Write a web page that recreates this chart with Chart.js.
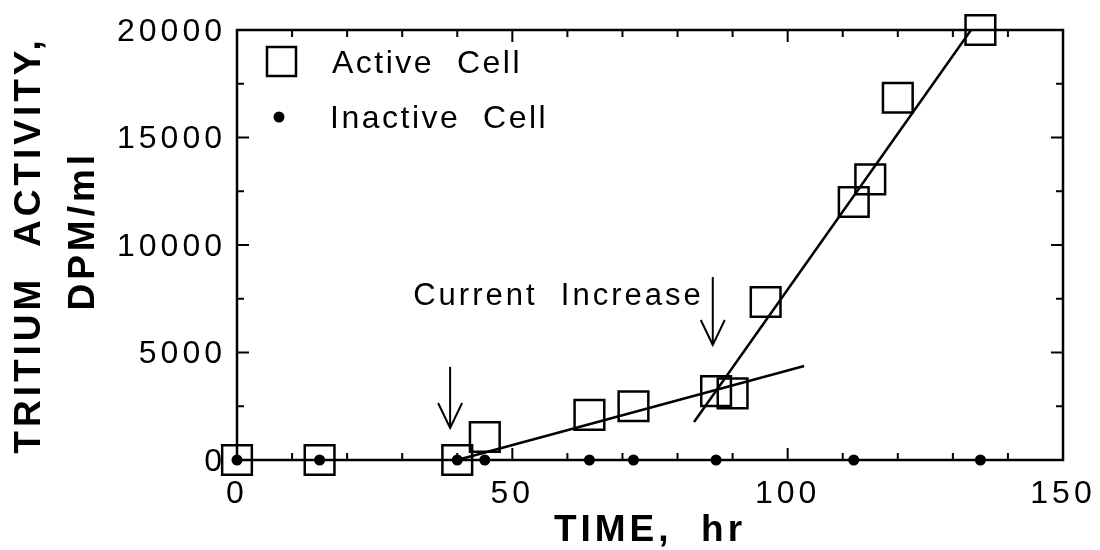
<!DOCTYPE html>
<html lang="en">
<head>
<meta charset="UTF-8">
<title>Tritium activity vs time</title>
<script src="https://cdn.jsdelivr.net/npm/chart.js"></script>
<style>
  html, body { margin: 0; padding: 0; background: #fff; }
  #wrap { width: 1100px; height: 550px; }
</style>
</head>
<body>
<div id="wrap"><canvas id="chart" width="1100" height="550"></canvas></div>
<script>
  // Active cell (open squares)
  const activeTime = [0, 15, 40, 45, 64, 72, 87, 90, 96, 112, 115, 120, 135];
  const activeDpm  = [0, 0, 0, 1070, 2100, 2500, 3200, 3100, 7350, 12000, 13050, 16850, 20000];
  // Inactive cell (dots)
  const inactiveTime = [0, 15, 40, 45, 64, 72, 87, 112, 135];
  const inactiveDpm  = [0, 0, 0, 0, 0, 0, 0, 0, 0];
  // fitted lines
  const slowFitTime = [40, 103];
  const slowFitDpm  = [0, 4370];
  const fastFitTime = [83, 133.3];
  const fastFitDpm  = [1770, 20000];
  // arrows (time, top, tip)
  const arrowTime = [38.7, 86.4];
  const arrowTop  = [4330, 8510];
  const arrowTip  = [1490, 5350];
  const noteText = 'Current  Increase';
  const noteTime = 32;
  const noteDpm = 7600;

  const legendLabels = ['Active  Cell', 'Inactive  Cell'];
  const xLabelEvery = 50;
  const yLabelEvery = 5000;

  const FONT = '"Liberation Sans", Arial, Helvetica, sans-serif';
  const pts = (xs, ys) => xs.map((x, i) => ({ x, y: ys[i] }));

  function line(ctx, x1, y1, x2, y2) {
    ctx.beginPath(); ctx.moveTo(x1, y1); ctx.lineTo(x2, y2); ctx.stroke();
  }

  // keep the plot box where it is, whatever the labels ask for
  function noPad(s) { s.paddingLeft = 0; s.paddingRight = 0; s.paddingTop = 0; s.paddingBottom = 0; }

  const decor = {
    id: 'decor',
    beforeUpdate(chart) { chart.ctx.letterSpacing = '4px'; },
    beforeDraw(chart) {
      const ctx = chart.ctx;
      ctx.save();
      ctx.fillStyle = '#fff';
      ctx.fillRect(0, 0, chart.width, chart.height);
      ctx.restore();
      ctx.letterSpacing = '4px';
    },
    afterDraw(chart) {
      const ctx = chart.ctx, a = chart.chartArea;
      const xs = chart.scales.x, ys = chart.scales.y;
      ctx.save();
      ctx.strokeStyle = '#000';
      ctx.fillStyle = '#000';
      ctx.lineWidth = 2.5;
      ctx.strokeRect(a.left, a.top, a.right - a.left, a.bottom - a.top);

      // inward tick marks on all four sides
      ctx.lineWidth = 2;
      xs.ticks.forEach(t => {
        const p = xs.getPixelForValue(t.value);
        const len = t.value % xLabelEvery === 0 ? 12 : 7;
        line(ctx, p, a.bottom, p, a.bottom - len);
        line(ctx, p, a.top, p, a.top + len);
      });
      ys.ticks.forEach(t => {
        const p = ys.getPixelForValue(t.value);
        const len = t.value % yLabelEvery === 0 ? 12 : 7;
        line(ctx, a.left, p, a.left + len, p);
        line(ctx, a.right, p, a.right - len, p);
      });

      // arrows
      arrowTime.forEach((t, i) => {
        const x = xs.getPixelForValue(t);
        const top = ys.getPixelForValue(arrowTop[i]);
        const tip = ys.getPixelForValue(arrowTip[i]);
        line(ctx, x, top, x, tip);
        ctx.beginPath();
        ctx.moveTo(x - 12, tip - 25); ctx.lineTo(x, tip); ctx.lineTo(x + 12, tip - 25);
        ctx.stroke();
      });

      // annotation
      ctx.font = '31px ' + FONT;
      ctx.letterSpacing = '3px';
      ctx.textBaseline = 'middle';
      ctx.textAlign = 'left';
      ctx.fillText(noteText, xs.getPixelForValue(noteTime), ys.getPixelForValue(noteDpm));

      // legend
      ctx.lineWidth = 2.5;
      ctx.strokeRect(267, 47, 29, 29);
      ctx.font = '32px ' + FONT;
      ctx.letterSpacing = '2.5px';
      ctx.fillText(legendLabels[0], 332, 64);
      ctx.beginPath(); ctx.arc(279, 117, 5.5, 0, Math.PI * 2); ctx.fill();
      ctx.fillText(legendLabels[1], 330, 119);
      ctx.restore();
    }
  };

  Chart.defaults.color = '#000';
  Chart.defaults.font.family = FONT;

  new Chart(document.getElementById('chart'), {
    type: 'scatter',
    data: {
      datasets: [
        { label: 'Active Cell', data: pts(activeTime, activeDpm), pointStyle: 'rect', pointRadius: 21,
          borderColor: '#000', borderWidth: 2.5, backgroundColor: 'rgba(0,0,0,0)', clip: false },
        { label: 'Inactive Cell', data: pts(inactiveTime, inactiveDpm), pointStyle: 'circle', pointRadius: 5.5,
          borderWidth: 0, backgroundColor: '#000', clip: false },
        { label: 'fit 1', data: pts(slowFitTime, slowFitDpm), showLine: true, pointRadius: 0,
          borderColor: '#000', borderWidth: 2.5, clip: false },
        { label: 'fit 2', data: pts(fastFitTime, fastFitDpm), showLine: true, pointRadius: 0,
          borderColor: '#000', borderWidth: 2.5, clip: false }
      ]
    },
    options: {
      responsive: false,
      animation: false,
      layout: { padding: { left: 0, right: 37, top: 30, bottom: 0 } },
      plugins: { legend: { display: false }, tooltip: { enabled: false } },
      scales: {
        x: {
          type: 'linear', min: 0, max: 150,
          grid: { display: false, drawTicks: false },
          border: { display: false },
          ticks: { stepSize: 10, autoSkip: false, maxRotation: 0, padding: 15,
                   font: { size: 32 },
                   callback: v => (v % xLabelEvery === 0 ? v : '') },
          title: { display: true, text: 'TIME,  hr', font: { size: 37, weight: 'bold', lineHeight: 1 },
                   padding: { top: 0, bottom: 1 } },
          afterFit: s => { s.height = 90; noPad(s); }
        },
        y: {
          type: 'linear', min: 0, max: 20000,
          grid: { display: false, drawTicks: false },
          border: { display: false },
          ticks: { stepSize: 2500, autoSkip: false, padding: 11, labelOffset: 2,
                   font: { size: 32 },
                   callback: v => (v % yLabelEvery === 0 ? v : '') },
          title: { display: true, text: ['TRITIUM  ACTIVITY,', '  DPM/ml'],
                   font: { size: 37, weight: 'bold', lineHeight: 1.45 },
                   padding: { top: 3, bottom: 0 } },
          afterFit: s => { s.width = 237; noPad(s); }
        }
      }
    },
    plugins: [decor]
  });
</script>
</body>
</html>
